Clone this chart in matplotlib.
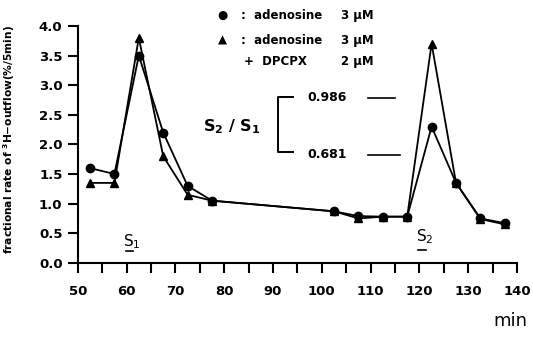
import numpy as np
import matplotlib.pyplot as plt
import matplotlib.ticker as plticker

# time points (min) and fractional outflow (%/5min)
t = [52.5, 57.5, 62.5, 67.5, 72.5, 77.5, 102.5, 107.5, 112.5, 117.5, 122.5, 127.5, 132.5, 137.5]
adenosine = [1.6, 1.5, 3.5, 2.2, 1.3, 1.05, 0.87, 0.79, 0.78, 0.78, 2.3, 1.35, 0.75, 0.67]
adenosine_dpcpx = [1.35, 1.35, 3.8, 1.8, 1.15, 1.05, 0.87, 0.75, 0.78, 0.78, 3.7, 1.35, 0.74, 0.65]
ratios = ['0.986', '0.681']

plt.rcParams['font.family'] = ['DejaVu Sans']
plt.rcParams['mathtext.default'] = 'bf'
fig = plt.figure(figsize=(5.33, 3.37), dpi=100)
ax = fig.add_axes([0.146, 0.22, 0.824, 0.703])

ax.plot(t, adenosine, marker='o', markersize=6, color='black', linewidth=1.3)
ax.plot(t, adenosine_dpcpx, marker='^', markersize=6, color='black', linewidth=1.3)

ax.set_xlim(50, 140)
ax.set_ylim(0, 4.0)
ax.xaxis.set_major_locator(plticker.MultipleLocator(10))
ax.xaxis.set_minor_locator(plticker.MultipleLocator(5))
ax.yaxis.set_major_locator(plticker.MultipleLocator(0.5))
ax.yaxis.set_major_formatter(plticker.StrMethodFormatter('{x:.1f}'))
for s in ['top', 'right']:
    ax.spines[s].set_visible(False)
for s in ['left', 'bottom']:
    ax.spines[s].set_linewidth(1.5)
ax.tick_params(which='both', direction='out', width=1.5, length=7, labelsize=9.5)
ax.tick_params(axis='x', which='both', pad=9)
ax.tick_params(axis='y', pad=4)
for lab in ax.get_xticklabels() + ax.get_yticklabels():
    lab.set_fontweight('bold')

ax.set_ylabel(r'fractional rate of $^3$H$-$outflow(%/5min)', fontsize=7.7, fontweight='bold')
ax.yaxis.set_label_coords(-0.138, 0.52)
fig.text(0.99, 0.02, 'min', fontsize=13, ha='right', va='bottom')

# legend text
leg = dict(fontsize=8.5, fontweight='bold', transform=fig.transFigure, va='baseline')
fig.text(222/533, 1-15/337, '●', ha='center', fontsize=8.5, va='center')
fig.text(222/533, 1-40/337, '▲', ha='center', fontsize=8.5, va='center')
fig.text(241/533, 1-19/337, ':  adenosine', **leg)
fig.text(241/533, 1-44/337, ':  adenosine', **leg)
fig.text(244/533, 1-65/337, '+  DPCPX', **leg)
fig.text(341/533, 1-19/337, '3 μM', **leg)
fig.text(341/533, 1-44/337, '3 μM', **leg)
fig.text(341/533, 1-65/337, '2 μM', **leg)

# S2/S1 bracket
fig.text(203/533, 1-127/337, r'S$_2$ / S$_1$', fontsize=11.5, fontweight='bold', va='center')
fig.add_artist(plt.Line2D([293/533, 278/533, 278/533, 293/533],
                          [1-97/337, 1-97/337, 1-152/337, 1-152/337],
                          color='black', linewidth=1.4))
fig.text(307/533, 1-97/337, ratios[0], fontsize=9, fontweight='bold', va='center')
fig.text(307/533, 1-154/337, ratios[1], fontsize=9, fontweight='bold', va='center')
fig.add_artist(plt.Line2D([368/533, 395/533], [1-98/337, 1-98/337], color='black', linewidth=1.2))
fig.add_artist(plt.Line2D([368/533, 400/533], [1-155/337, 1-155/337], color='black', linewidth=1.2))

# stimulation periods
ax.text(61, 0.36, r'S$_\mathrm{1}$', fontsize=11, ha='center', va='center')
ax.plot([59.8, 61.3], [0.2, 0.2], color='black', linewidth=1.2)
ax.text(121, 0.45, r'S$_\mathrm{2}$', fontsize=11, ha='center', va='center')
ax.plot([119.8, 121.3], [0.22, 0.22], color='black', linewidth=1.2)

fig.savefig('out.png', dpi=100)
